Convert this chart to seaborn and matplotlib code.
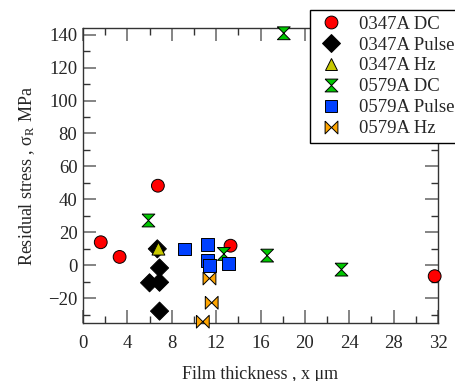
import numpy as np
import pandas as pd
import matplotlib
matplotlib.use("Agg")
import matplotlib.pyplot as plt
import seaborn as sns
from matplotlib.ticker import MultipleLocator

# dati
dc_0347_x = [1.6, 3.3, 6.75, 13.3, 31.7]
dc_0347_y = [14.0, 5.1, 48.3, 11.9, -6.6]
pulse_0347_x = [6.7, 6.9, 6.0, 6.9, 6.9]
pulse_0347_y = [10.0, -1.6, -10.6, -10.3, -27.8]
hz_0347_x = [6.8]
hz_0347_y = [10.1]
dc_0579_x = [5.9, 12.7, 16.6, 18.1, 23.3]
dc_0579_y = [27.2, 6.9, 5.9, 140.8, -2.6]
pulse_0579_x = [9.15, 11.2, 11.25, 11.4, 13.1]
pulse_0579_y = [9.9, 12.5, 3.0, -0.2, 1.0]
hz_0579_x = [11.4, 11.6, 10.8]
hz_0579_y = [-8.0, -22.7, -34.2]

serie = ["0347A DC", "0347A Pulse", "0347A Hz", "0579A DC", "0579A Pulse", "0579A Hz"]
xs = [dc_0347_x, pulse_0347_x, hz_0347_x, dc_0579_x, pulse_0579_x, hz_0579_x]
ys = [dc_0347_y, pulse_0347_y, hz_0347_y, dc_0579_y, pulse_0579_y, hz_0579_y]

df = pd.concat([pd.DataFrame({"x": x, "y": y, "serie": s}) for s, x, y in zip(serie, xs, ys)],
               ignore_index=True)

colori = {"0347A DC": "#ff0000", "0347A Pulse": "#000000", "0347A Hz": "#c8c800",
          "0579A DC": "#00c800", "0579A Pulse": "#0040ff", "0579A Hz": "#ffa500"}
clessidra = [(-1, 1), (1, 1), (-1, -1), (1, -1), (-1, 1)]
farfalla = [(-1, 1), (-1, -1), (1, 1), (1, -1), (-1, 1)]
marker = {"0347A DC": "o", "0347A Pulse": "D", "0347A Hz": "^",
          "0579A DC": clessidra, "0579A Pulse": "s", "0579A Hz": farfalla}

sns.set_style("ticks")
plt.rcParams["font.family"] = ["Liberation Serif", "DejaVu Serif"]
plt.rcParams["mathtext.fontset"] = "stix"

fig = plt.figure(figsize=(4.56, 3.81), dpi=100)
ax = fig.add_axes([83 / 456, 1 - 323 / 381, 355 / 456, 295 / 381])

sns.scatterplot(data=df, x="x", y="y", hue="serie", style="serie",
                palette=colori, markers=marker, hue_order=serie, style_order=serie,
                s=85, edgecolor="black", linewidth=0.7, ax=ax, zorder=3, clip_on=False)

ax.set_xlim(0, 32)
ax.set_ylim(-35, 144)
ax.xaxis.set_major_locator(MultipleLocator(4))
ax.xaxis.set_minor_locator(MultipleLocator(2))
ax.yaxis.set_major_locator(MultipleLocator(20))
ax.yaxis.set_minor_locator(MultipleLocator(10))
ax.tick_params(which="both", direction="in", top=True, right=True, labelsize=13.5)
ax.tick_params(axis="x", pad=9)
ax.tick_params(axis="y", pad=4)
ax.tick_params(which="major", length=9.5, width=1.2, color="#707070")
ax.tick_params(which="minor", length=5, width=1.0, color="#333333")
for sp in ax.spines.values():
    sp.set_color("#333333")
    sp.set_linewidth(1.0)

ax.set_xlabel("Film thickness , x μm", fontsize=13, labelpad=10)
ax.set_ylabel(r"Residual stress , $\mathregular{σ_R}$ MPa", fontsize=13, labelpad=8)

handles, labels = ax.get_legend_handles_labels()
leg = ax.legend(handles, labels, loc="upper left", bbox_to_anchor=(310 / 456, 1 - 10 / 381),
                bbox_transform=fig.transFigure, fontsize=13.5, frameon=True, fancybox=False,
                edgecolor="black", framealpha=1, borderpad=0.3, labelspacing=0.2,
                handletextpad=0.7, borderaxespad=0, handlelength=1.6)
leg.get_frame().set_linewidth(1.0)

fig.savefig("out.png", dpi=100)
